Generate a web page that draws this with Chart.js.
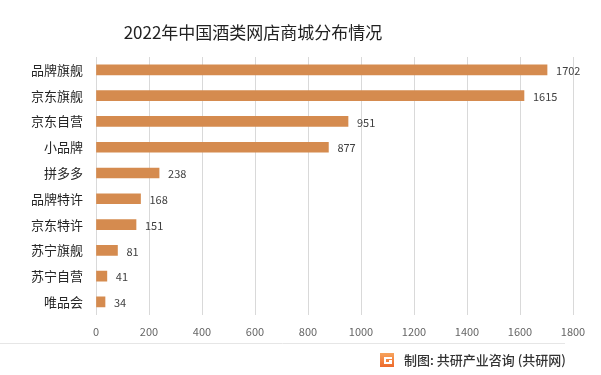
<!DOCTYPE html>
<html>
<head>
<meta charset="utf-8">
<script src="https://cdn.jsdelivr.net/npm/chart.js@4/dist/chart.umd.min.js"></script>
<style>
  html, body { margin: 0; padding: 0; background: #fff; }
  #wrap { width: 601px; height: 375px; }
</style>
</head>
<body>
<div id="wrap"><canvas id="chart" width="601" height="375"></canvas></div>
<script>
const chartTitle = '2022年中国酒类网店商城分布情况';
const categories = ['品牌旗舰', '京东旗舰', '京东自营', '小品牌', '拼多多', '品牌特许', '京东特许', '苏宁旗舰', '苏宁自营', '唯品会'];
const shopCounts = [1702, 1615, 951, 877, 238, 168, 151, 81, 41, 34];
const xTicks = [0, 200, 400, 600, 800, 1000, 1200, 1400, 1600, 1800];

const fontFamily = '"Microsoft YaHei", "Noto Sans CJK SC", "DejaVu Sans", sans-serif';

// values at the end of each bar
const valueLabels = {
    id: 'valueLabels',
    afterDatasetsDraw(chart) {
        const ctx = chart.ctx;
        const meta = chart.getDatasetMeta(0);
        ctx.save();
        ctx.font = '11px ' + fontFamily;
        ctx.fillStyle = '#404040';
        ctx.textAlign = 'left';
        ctx.textBaseline = 'middle';
        meta.data.forEach((bar, i) => {
            ctx.fillText(shopCounts[i], bar.x + 9, bar.y + 1);
        });
        ctx.restore();
    }
};

// title, bottom rule and source note
const decorations = {
    id: 'decorations',
    afterDraw(chart) {
        const ctx = chart.ctx;
        ctx.save();
        ctx.fillStyle = '#222';
        ctx.font = '17px ' + fontFamily;
        ctx.textAlign = 'center';
        ctx.textBaseline = 'middle';
        ctx.fillText(chartTitle, 253, 33);

        ctx.strokeStyle = '#e6e6e6';
        ctx.lineWidth = 1;
        ctx.beginPath();
        ctx.moveTo(0, 343.5);
        ctx.lineTo(565, 343.5);
        ctx.stroke();

        // little logo
        const g = ctx.createLinearGradient(380, 353, 380, 367);
        g.addColorStop(0, '#f7a35c');
        g.addColorStop(1, '#ee6a2c');
        ctx.fillStyle = g;
        ctx.fillRect(380, 353, 14, 14);
        ctx.fillStyle = '#fff';
        ctx.fillRect(384, 357, 8, 2);
        ctx.fillRect(384, 357, 2, 7);
        ctx.fillRect(384, 362, 8, 2);
        ctx.fillRect(389, 360, 3, 2);

        ctx.fillStyle = '#333';
        ctx.font = '500 13px ' + fontFamily;
        ctx.textAlign = 'right';
        ctx.fillText('制图: 共研产业咨询 (共研网)', 566, 360);
        ctx.restore();
    }
};

new Chart(document.getElementById('chart').getContext('2d'), {
    type: 'bar',
    data: {
        labels: categories,
        datasets: [{
            data: shopCounts,
            backgroundColor: '#d58b4f',
            barThickness: 10
        }]
    },
    options: {
        indexAxis: 'y',
        responsive: false,
        animation: false,
        layout: { padding: { left: 0, right: 28, top: 57, bottom: 27 } },
        plugins: {
            legend: { display: false },
            tooltip: { enabled: false },
            title: { display: false }
        },
        scales: {
            x: {
                min: 0,
                max: 1800,
                afterBuildTicks(scale) {
                    scale.ticks = xTicks.map(v => ({ value: v }));
                },
                grid: { color: '#d9d9d9', drawTicks: false },
                border: { display: false },
                ticks: {
                    color: '#666',
                    font: { family: fontFamily, size: 11 },
                    padding: 10,
                    callback: v => String(v)
                }
            },
            y: {
                afterFit(scale) { scale.width = 96; },
                grid: { display: false },
                border: { display: false },
                ticks: {
                    color: '#262626',
                    font: { family: fontFamily, size: 13 },
                    padding: 5
                }
            }
        }
    },
    plugins: [valueLabels, decorations]
});
</script>
</body>
</html>
